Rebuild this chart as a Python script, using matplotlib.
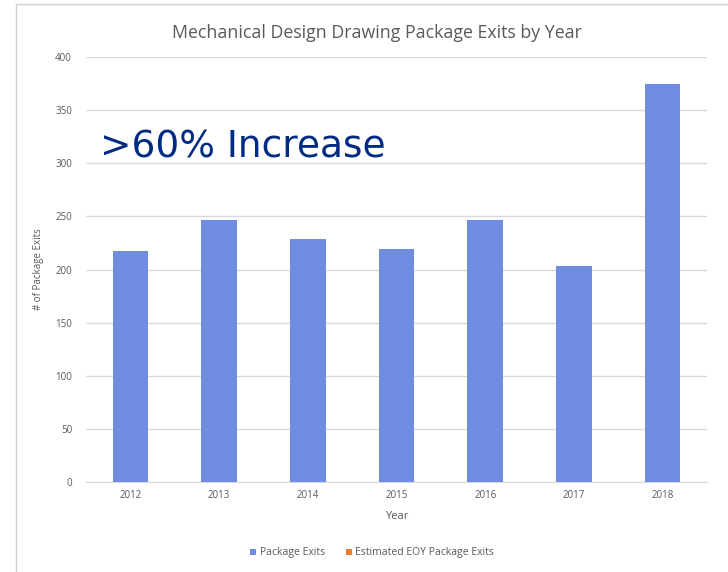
import matplotlib.pyplot as plt
from matplotlib.patches import Rectangle

years = ['2012', '2013', '2014', '2015', '2016', '2017', '2018']
exits = [217, 247, 229, 219, 247, 203, 375]
estimated = [0, 0, 0, 0, 0, 0, 0]

bar_color = '#6F8CE1'
est_color = '#ED7D31'
gray = '#595959'

plt.rcParams['font.family'] = ['Open Sans', 'DejaVu Sans']

fig = plt.figure(figsize=(7.28, 5.72), dpi=100)
ax = fig.add_axes([86 / 728, 90 / 572, 621 / 728, 425 / 572])

x = range(len(years))
ax.bar(x, exits, width=0.4, color=bar_color, label='Package Exits', zorder=3)
ax.bar(x, estimated, width=0.4, bottom=exits, color=est_color,
       label='Estimated EOY Package Exits', zorder=3)

ax.set_xlim(-0.5, len(years) - 0.5)
ax.set_ylim(0, 400)
ax.set_yticks(range(0, 401, 50))
ax.set_xticks(list(x))
ax.set_xticklabels(years)
ax.grid(axis='y', color='#D9D9D9', linewidth=1, zorder=0)
for s in ax.spines.values():
    s.set_visible(False)
ax.spines['bottom'].set_visible(True)
ax.spines['bottom'].set_color('#D9D9D9')
ax.tick_params(length=0, labelsize=7, labelcolor=gray, pad=6)
ax.tick_params(axis='y', pad=10)

ax.set_xlabel('Year', fontsize=8, color=gray, labelpad=7)
ax.set_ylabel('# of Package Exits', fontsize=7, color=gray, labelpad=8)
fig.text(377 / 728, 1 - 33 / 572, 'Mechanical Design Drawing Package Exits by Year',
         ha='center', va='center', fontsize=12.8, color=gray)

fig.text(100 / 728, 1 - 147 / 572, '>60% Increase', fontsize=27, color='#002B82',
         family='DejaVu Sans', va='center', ha='left', zorder=5)

leg = ax.legend(loc='center', bbox_to_anchor=(372 / 728, 1 - 553 / 572),
                bbox_transform=fig.transFigure, ncol=2, frameon=False,
                fontsize=7.5, labelcolor=gray, handlelength=0.6, handleheight=0.6,
                handletextpad=0.3, columnspacing=2.0)

fig.patches.append(Rectangle((16 / 728, -0.01), 1.0, 1 - 4 / 572 + 0.01,
                             transform=fig.transFigure, fill=False,
                             edgecolor='#D0D0D0', linewidth=1))

fig.savefig('out.png', dpi=100)
